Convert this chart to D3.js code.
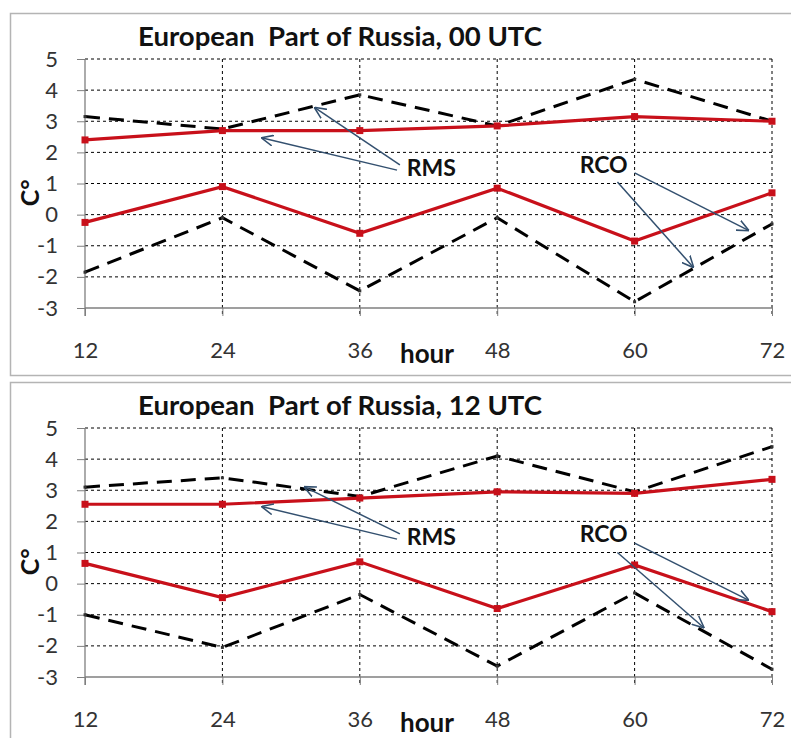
<!DOCTYPE html>
<html>
<head>
<meta charset="utf-8">
<script src="https://cdn.jsdelivr.net/npm/d3@7"></script>
<style>
  body { margin: 0; background: #fff; }
  svg { display: block; font-family: Lato, "Open Sans", sans-serif; }
  text { white-space: pre; }
</style>
</head>
<body>
<svg id="chart" width="791" height="738"></svg>
<script>
// hours on the x axis
const hours = [12, 24, 36, 48, 60, 72];
const yTicks = [-3, -2, -1, 0, 1, 2, 3, 4, 5];

// 00 UTC panel
const rms00Model = [3.15, 2.75, 3.85, 2.85, 4.35, 3.0];   // black dashed, upper
const rms00Red   = [2.4, 2.7, 2.7, 2.85, 3.15, 3.0];     // red, upper
const rco00Red   = [-0.25, 0.9, -0.6, 0.85, -0.85, 0.7]; // red, lower
const rco00Model = [-1.85, -0.1, -2.45, -0.1, -2.8, -0.3]; // black dashed, lower

// 12 UTC panel
const rms12Model = [3.1, 3.4, 2.8, 4.1, 2.95, 4.4];
const rms12Red   = [2.55, 2.55, 2.75, 2.95, 2.9, 3.35];
const rco12Red   = [0.65, -0.45, 0.7, -0.8, 0.6, -0.9];
const rco12Model = [-1.0, -2.05, -0.35, -2.65, -0.3, -2.75];

const titles = ["European  Part of Russia, 00 UTC", "European  Part of Russia, 12 UTC"];

// annotation arrows, [hour, value] from -> to
const arrows00 = [
  [[39.25, 1.43], [27.5, 2.46]],
  [[39.5, 1.6], [32.1, 3.43]],
  [[60.0, 1.34], [69.9, -0.5]],
  [[58.5, 1.05], [65.1, -1.68]]
];
const arrows12 = [
  [[39.25, 1.43], [27.5, 2.47]],
  [[39.5, 1.6], [31.2, 3.1]],
  [[60.0, 1.3], [69.9, -0.52]],
  [[58.5, 1.0], [66.0, -1.4]]
];
const labels = [
  { text: "RMS", at: [40.1, 1.5] },
  { text: "RCO", at: [55.2, 1.6] }
];

const panels = [
  { title: titles[0], top: 13, bottom: 376, y0: 59, y1: 308,
    series: [rms00Model, rms00Red, rco00Red, rco00Model], arrows: arrows00 },
  { title: titles[1], top: 382, bottom: 745, y0: 428, y1: 677,
    series: [rms12Model, rms12Red, rco12Red, rco12Model], arrows: arrows12 }
];

const ARROW = "#33506f";
const RED = "#c8101a";

const svg = d3.select("#chart");

const defs = svg.append("defs");
defs.append("marker")
  .attr("id", "arrowHead")
  .attr("viewBox", "0 0 10 10")
  .attr("refX", 9).attr("refY", 5)
  .attr("markerWidth", 12).attr("markerHeight", 12)
  .attr("markerUnits", "userSpaceOnUse")
  .attr("orient", "auto")
  .append("path")
  .attr("d", "M0,0.5 L10,5 L0,9.5")
  .attr("fill", "none").attr("stroke", ARROW).attr("stroke-width", 1.3);

const x = d3.scaleLinear().domain([12, 72]).range([85, 772]);

panels.forEach(p => {
  const g = svg.append("g");
  const y = d3.scaleLinear().domain([-3, 5]).range([p.y1, p.y0]);

  // panel frame (right edge runs past the page)
  g.append("rect")
    .attr("x", 10.5).attr("y", p.top + 0.5)
    .attr("width", 790).attr("height", p.bottom - p.top - 1)
    .attr("fill", "#fff").attr("stroke", "#b4b4b4").attr("stroke-width", 1.5);

  // title
  g.append("text")
    .attr("x", 138).attr("y", p.top + 33)
    .attr("font-size", 26).attr("font-weight", "bold").attr("fill", "#111")
    .attr("textLength", 404).attr("lengthAdjust", "spacingAndGlyphs")
    .text(p.title);

  // horizontal dashed grid
  g.selectAll(".hgrid").data(yTicks.filter(d => d > -3)).join("line")
    .attr("x1", x(12)).attr("x2", x(72))
    .attr("y1", d => y(d)).attr("y2", d => y(d))
    .attr("stroke", "#000").attr("stroke-width", 1).attr("stroke-dasharray", "3,3");

  // vertical dashed grid
  g.selectAll(".vgrid").data(hours.slice(1)).join("line")
    .attr("x1", d => x(d)).attr("x2", d => x(d))
    .attr("y1", y(5)).attr("y2", y(-3) + 8)
    .attr("stroke", "#000").attr("stroke-width", 1).attr("stroke-dasharray", "3,3");

  // axes
  const yAxis = d3.axisLeft(y).tickValues(yTicks).tickSize(8).tickPadding(19).tickFormat(d3.format("d"));
  const ya = g.append("g").attr("transform", `translate(${x(12)},0)`).call(yAxis);
  ya.select(".domain").attr("stroke", "#7f7f7f").attr("stroke-width", 1.3)
    .attr("d", `M0,${y(5)}V${y(-3) + 8}`);
  ya.selectAll(".tick line").attr("stroke", "#7f7f7f");
  ya.selectAll(".tick text").attr("font-size", 22).attr("fill", "#333")
    .attr("font-family", "Lato, sans-serif").text(d => d < 0 ? "-" + Math.abs(d) : d);

  const xAxis = d3.axisBottom(x).tickValues(hours).tickSize(8).tickPadding(26).tickFormat(d3.format("d"));
  const xa = g.append("g").attr("transform", `translate(0,${y(-3)})`).call(xAxis);
  xa.select(".domain").attr("stroke", "#7f7f7f").attr("stroke-width", 1.3)
    .attr("d", `M${x(12)},0H${x(72)}`);
  xa.selectAll(".tick line").attr("stroke", "#7f7f7f");
  xa.selectAll(".tick text").attr("font-size", 22).attr("fill", "#333")
    .attr("font-family", "Lato, sans-serif");

  // axis titles
  g.append("text")
    .attr("x", 400).attr("y", y(-3) + 55)
    .attr("font-size", 26).attr("font-weight", "bold").attr("fill", "#111")
    .text("hour");
  g.append("text")
    .attr("transform", `translate(39,${y(0.7)}) rotate(-90)`)
    .attr("text-anchor", "middle")
    .attr("font-size", 25).attr("font-weight", "bold").attr("fill", "#111")
    .text("C°");

  // series: [black upper, red upper, red lower, black lower]
  const line = d3.line().x((d, i) => x(hours[i])).y(d => y(d));
  p.series.forEach((s, k) => {
    const red = (k === 1 || k === 2);
    g.append("path").datum(s)
      .attr("d", line)
      .attr("fill", "none")
      .attr("stroke", red ? RED : "#000")
      .attr("stroke-width", red ? 3.2 : 3)
      .attr("stroke-dasharray", red ? null : "15,9");
    g.selectAll(null).data(s).join("rect")
      .attr("x", (d, i) => x(hours[i]) - (red ? 3.5 : 1.5))
      .attr("y", d => y(d) - (red ? 3.5 : 1.5))
      .attr("width", red ? 7 : 3).attr("height", red ? 7 : 3)
      .attr("fill", red ? RED : "#333");
  });

  // annotations
  g.selectAll(".arrow").data(p.arrows).join("line")
    .attr("x1", d => x(d[0][0])).attr("y1", d => y(d[0][1]))
    .attr("x2", d => x(d[1][0])).attr("y2", d => y(d[1][1]))
    .attr("stroke", ARROW).attr("stroke-width", 1.5)
    .attr("marker-end", "url(#arrowHead)");
  g.selectAll(".lbl").data(labels).join("text")
    .attr("x", d => x(d.at[0])).attr("y", d => y(d.at[1]) + 8)
    .attr("font-size", 23).attr("font-weight", "bold").attr("fill", "#111")
    .text(d => d.text);
});
</script>
</body>
</html>
